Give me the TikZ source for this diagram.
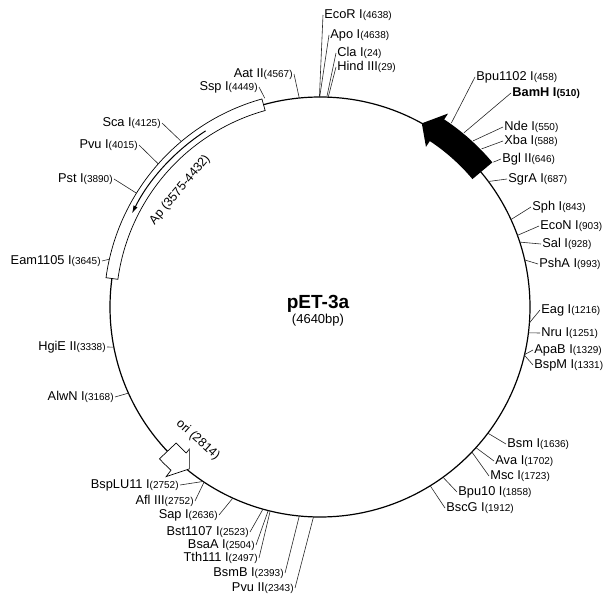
\documentclass[tikz,border=0pt]{standalone}
\usepackage{fontspec}
\setmainfont{Liberation Sans}
\usetikzlibrary{arrows.meta,calc}
\newcommand\sitelab[2]{{\fontsize{12.8}{13}\selectfont #1}{\fontsize{10}{11}\selectfont(#2)}}
\newcommand\sitelabb[2]{{\bfseries\fontsize{12.8}{13}\selectfont #1}{\bfseries\fontsize{10}{11}\selectfont(#2)}}
\begin{document}
\begin{tikzpicture}[x=1pt,y=-1pt,
  lbl/.style={inner sep=1.2pt,text=black},
  lead/.style={line width=0.6pt,draw=black!85},
  featbox/.style={draw=black,line width=0.7pt,fill=white}]
\useasboundingbox (0,0) rectangle (608,597);
\coordinate (C) at (320,307);
% backbone
\draw[line width=1.2pt] (C) circle (210);
% Ap feature box
\draw[featbox] ($(C)+(187.8:204)$) arc (187.8:254.4:204) -- ($(C)+(254.4:216)$) arc (254.4:187.8:216) -- cycle;
\draw[line width=1pt,-{Latex[length=8pt,width=4.5pt]}] ($(C)+(237:210)$) arc (237:206.4:210);
\node[rotate=50,inner sep=0pt] (aplab) at (180,190) {\fontsize{12.5}{13}\selectfont Ap (3575-4432)};
% ori feature
\draw[featbox] ($(C)+(136.6:198)$) arc (136.6:132.5:198) -- ($(C)+(132.6:193)$) -- ($(C)+(128.9:208)$) -- ($(C)+(132.2:229)$) -- ($(C)+(132.4:221)$) arc (132.4:136.6:221) -- cycle;
\node[rotate=-42,inner sep=0pt] (orilab) at (198,440) {\fontsize{12.5}{13}\selectfont ori (2814)};
% T7 black arrow
\fill[black] ($(C)+(-40:199)$) arc (-40:-56.5:199) -- ($(C)+(-56.5:192)$) -- ($(C)+(-61:210)$) -- ($(C)+(-56.5:232)$) -- ($(C)+(-56.5:225)$) arc (-56.5:-40:225) -- cycle;
% title
\node[inner sep=0pt] (title) at (318,304) {\bfseries\fontsize{19}{21}\selectfont pET-3a};
\node[inner sep=0pt] (size) at (318,320) {\fontsize{13}{14}\selectfont (4640bp)};
% right-side sites (labels to the right)
\foreach \id/\nm/\num/\p/\r/\lx/\ly in {
  ecor/EcoR I/4638/4638/210/323/15,
  apo/Apo I/4638/4639/210/329/35,
  cla/Cla I/24/24/210/336/53,
  hind/Hind III/29/29/210/336/67,
  bpu/Bpu1102 I/458/458/226/475/77,
  nde/Nde I/550/550/226/503/127,
  xba/Xba I/588/588/226/503/141,
  bgl/Bgl II/646/646/226/501/159,
  sgra/SgrA I/687/687/210/507/179,
  sph/Sph I/843/843/210/531/207,
  econ/EcoN I/903/903/210/539/226,
  sal/Sal I/928/928/210/541/244,
  psha/PshA I/993/993/210/538/264,
  eag/Eag I/1216/1216/210/540/310,
  nru/Nru I/1251/1251/210/540/333,
  apab/ApaB I/1329/1329/210/533/350,
  bspm/BspM I/1331/1331/210/533/365,
  bsm/Bsm I/1636/1636/210/506/444,
  ava/Ava I/1702/1702/210/494/461,
  msc/Msc I/1723/1723/210/489/476,
  bputen/Bpu10 I/1858/1858/210/457/492,
  bscg/BscG I/1912/1912/210/445/508}
{
  \coordinate (s\id) at ($(C)+({\p/4640*360-90}:\r)$);
  \node[lbl,anchor=west] (l\id) at (\lx,\ly) {\sitelab{\nm}{\num}};
  \draw[lead] (s\id) -- (l\id.west);
}
% BamH I (bold)
\coordinate (sbamh) at ($(C)+({510/4640*360-90}:226)$);
\node[lbl,anchor=west] (lbamh) at (511,93) {\sitelabb{BamH I}{510}};
\draw[lead] (sbamh) -- (lbamh.west);
% left-side sites (labels to the left)
\foreach \id/\nm/\num/\p/\r/\lx/\ly in {
  pvuii/Pvu II/2343/2343/210/295/588,
  bsmb/BsmB I/2393/2393/210/285/573,
  tth/Tth111 I/2497/2497/210/259/558,
  bsaa/BsaA I/2504/2504/210/256/545,
  bst/Bst1107 I/2523/2523/210/250/532,
  sap/Sap I/2636/2636/210/219/515,
  afl/Afl III/2752/2752/210/195/501,
  bsplu/BspLU11 I/2752/2756/210/180/485,
  alwn/AlwN I/3168/3168/210/115/397,
  hgie/HgiE II/3338/3338/210/107/347,
  eam/Eam1105 I/3645/3645/216/102/261,
  pst/Pst I/3890/3890/216/114/179,
  pvui/Pvu I/4015/4015/216/139/145,
  sca/Sca I/4125/4125/216/162/123,
  ssp/Ssp I/4449/4449/216/259/87,
  aat/Aat II/4567/4567/210/294/74}
{
  \coordinate (s\id) at ($(C)+({\p/4640*360-90}:\r)$);
  \node[lbl,anchor=east] (l\id) at (\lx,\ly) {\sitelab{\nm}{\num}};
  \draw[lead] (s\id) -- (l\id.east);
}
\end{tikzpicture}
\end{document}
